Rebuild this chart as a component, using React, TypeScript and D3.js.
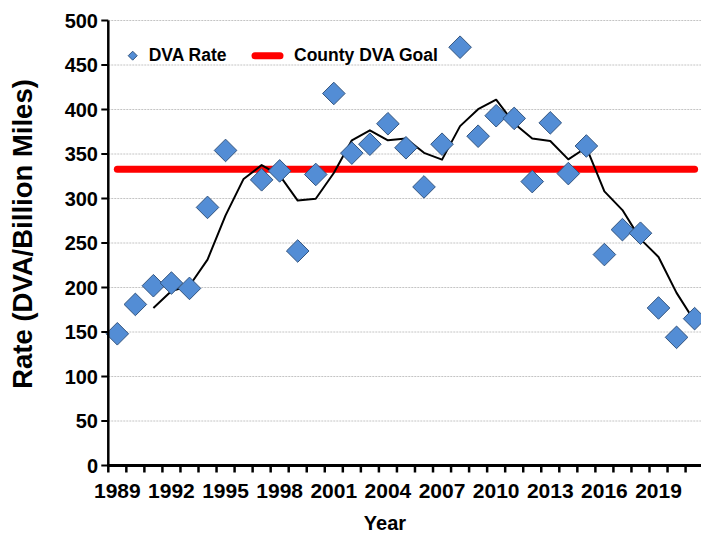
import React from "react";
import * as d3 from "d3";

const years: number[] = [
  1989, 1990, 1991, 1992, 1993, 1994, 1995, 1996, 1997, 1998, 1999, 2000, 2001,
  2002, 2003, 2004, 2005, 2006, 2007, 2008, 2009, 2010, 2011, 2012, 2013, 2014,
  2015, 2016, 2017, 2018, 2019, 2020, 2021,
];
const dvaRate: (number | null)[] = [
  148, 181, 202, 205, 199, 290, 354, null, 321, 331, 241, 327, 418,
  351, 361, 384, 357, 313, 361, 470, 370, 393, 390, 319, 385, 328,
  359, 237, 265, 261, 177, 144, 165,
];
const countyGoal = 333;
const yTicks: number[] = [0, 50, 100, 150, 200, 250, 300, 350, 400, 450, 500];
const xTickLabels: number[] = [1989, 1992, 1995, 1998, 2001, 2004, 2007, 2010, 2013, 2016, 2019];
const maPeriod = 3;

const W = 701;
const H = 533;
const FONT = "'Liberation Sans', Arial, Helvetica, sans-serif";

export default function App() {
  const x = d3
    .scaleBand<number>()
    .domain(years)
    .range([108.3, 108.3 + years.length * 18.04])
    .padding(0);
  const y = d3.scaleLinear().domain([0, 500]).range([465.5, 20.5]);
  const cx = (yr: number) => (x(yr) as number) + x.bandwidth() / 2;

  // Excel-style trailing moving average trendline (period 3, blanks skipped)
  const ma: { yr: number; v: number }[] = [];
  years.forEach((yr, i) => {
    if (i < maPeriod - 1) return;
    const win = dvaRate.slice(i - maPeriod + 1, i + 1).filter((v) => v != null) as number[];
    if (win.length) ma.push({ yr, v: d3.mean(win) as number });
  });
  const maLine = d3
    .line<{ yr: number; v: number }>()
    .x((d) => cx(d.yr))
    .y((d) => y(d.v));

  const goalLine = d3
    .line<number>()
    .x((yr) => cx(yr))
    .y(() => y(countyGoal));

  const xLeft = x.range()[0];
  const xRight = x.range()[1];
  const diamond = (px: number, py: number, r: number) =>
    `M${px},${py - r}L${px + r},${py}L${px},${py + r}L${px - r},${py}Z`;

  const boundaries = years.map((yr) => x(yr) as number).concat([xRight]);

  return (
    <svg
      width={W}
      height={H}
      style={{ position: "absolute", left: 0, top: 0, background: "#fff" }}
      fontFamily={FONT}
      fontWeight="bold"
    >
      {/* gridlines */}
      {yTicks
        .filter((t) => t > 0)
        .map((t) => (
          <line
            key={"g" + t}
            x1={xLeft}
            x2={xRight}
            y1={y(t)}
            y2={y(t)}
            stroke="#c4c4c4"
            strokeWidth={1}
            strokeDasharray="2,1"
          />
        ))}

      {/* goal line */}
      <path
        d={goalLine([years[0], years[years.length - 1]]) as string}
        stroke="#ff0000"
        strokeWidth={7}
        strokeLinecap="round"
        fill="none"
      />

      {/* moving average */}
      <path d={maLine(ma) as string} stroke="#000" strokeWidth={2} fill="none" strokeLinejoin="round" />

      {/* diamonds */}
      {years.map((yr, i) =>
        dvaRate[i] == null ? null : (
          <path
            key={"d" + yr}
            d={diamond(cx(yr), y(dvaRate[i] as number), 11.3)}
            fill="#538DD5"
            stroke="#34557f"
            strokeWidth={1}
          />
        )
      )}

      {/* axes */}
      <line x1={xLeft} x2={xLeft} y1={y(500)} y2={y(0) + 1} stroke="#000" strokeWidth={2.5} />
      {yTicks.map((t) => (
        <g key={"yt" + t}>
          <line x1={xLeft - 7} x2={xLeft} y1={y(t)} y2={y(t)} stroke="#000" strokeWidth={2} />
          <text x={98} y={y(t) + 7} textAnchor="end" fontSize={20} fill="#000">
            {t}
          </text>
        </g>
      ))}
      <line x1={xLeft - 1} x2={xRight} y1={y(0)} y2={y(0)} stroke="#000" strokeWidth={3} />
      {boundaries.map((bx, i) => (
        <line key={"xt" + i} x1={bx} x2={bx} y1={y(0)} y2={y(0) + 7} stroke="#000" strokeWidth={2.5} />
      ))}
      {xTickLabels.map((yr) => (
        <text key={"xl" + yr} x={cx(yr)} y={498} textAnchor="middle" fontSize={21} fill="#000">
          {yr}
        </text>
      ))}

      {/* axis titles */}
      <text x={385} y={530} textAnchor="middle" fontSize={20} fill="#000">
        Year
      </text>
      <text
        transform={`translate(32,234) rotate(-90)`}
        textAnchor="middle"
        fontSize={27.5}
        fill="#000"
      >
        Rate (DVA/Billion Miles)
      </text>

      {/* legend */}
      <path d={diamond(132.7, 55.7, 4.5)} fill="#538DD5" stroke="#34557f" strokeWidth={1} />
      <text x={148.7} y={61} fontSize={17.5} fill="#000">
        DVA Rate
      </text>
      <line x1={255} x2={280} y1={55.7} y2={55.7} stroke="#ff0000" strokeWidth={7} strokeLinecap="round" />
      <text x={294} y={61} fontSize={17.5} fill="#000">
        County DVA Goal
      </text>
    </svg>
  );
}
